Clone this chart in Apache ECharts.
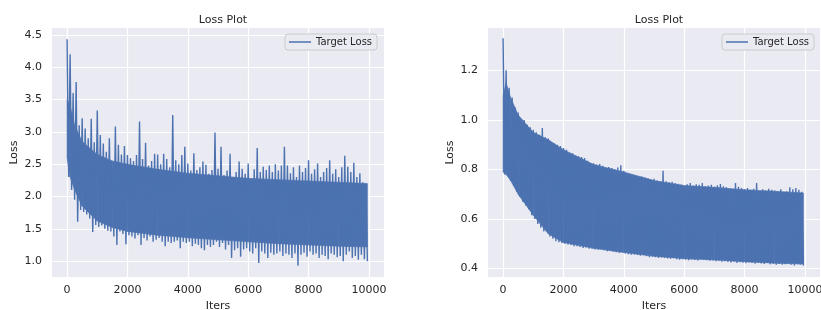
<!DOCTYPE html>
<html>
<head>
<meta charset="utf-8">
<script src="https://cdn.jsdelivr.net/npm/echarts@6/dist/echarts.min.js"></script>
<style>
  html, body { margin: 0; padding: 0; background: #fff; }
  #chart { width: 821px; height: 310px; }
</style>
</head>
<body>
<div id="chart"></div>
<script>
// each bin covers 100 iters: peak read at the bin start, trough read at mid bin
const binSize = 100;

const leftHigh = [
  4.43, 4.2, 3.6, 3.77, 3.1, 3.21, 3.05, 2.9, 3.2, 2.84,
  3.33, 2.95, 2.82, 2.69, 2.9, 2.43, 3.08, 2.8, 2.65, 2.78,
  2.64, 2.59, 2.55, 2.64, 3.16, 2.58, 2.83, 2.48, 2.55, 2.66,
  2.65, 2.5, 2.66, 2.58, 2.45, 3.26, 2.56, 2.5, 2.64, 2.77,
  2.51, 2.4, 2.67, 2.41, 2.45, 2.54, 2.49, 2.35, 2.41, 2.99,
  2.43, 2.77, 2.33, 2.4, 2.66, 2.28, 2.38, 2.54, 2.43, 2.35,
  2.51, 2.23, 2.42, 2.75, 2.38, 2.46, 2.41, 2.48, 2.38, 2.5,
  2.4, 2.48, 2.77, 2.48, 2.36, 2.45, 2.3, 2.48, 2.38, 2.44,
  2.56, 2.35, 2.42, 2.51, 2.3, 2.38, 2.44, 2.56, 2.35, 2.42,
  2.3, 2.45, 2.63, 2.46, 2.38, 2.52, 2.3, 2.36, 2.22, 2.15
];
const leftLow = [
  2.3, 2.1, 1.95, 1.61, 1.79, 1.76, 1.72, 1.66, 1.45, 1.56,
  1.53, 1.55, 1.5, 1.47, 1.46, 1.38, 1.25, 1.46, 1.42, 1.26,
  1.4, 1.38, 1.35, 1.4, 1.25, 1.36, 1.32, 1.38, 1.3, 1.33,
  1.36, 1.3, 1.23, 1.3, 1.28, 1.3, 1.32, 1.2, 1.3, 1.28,
  1.3, 1.23, 1.27, 1.25, 1.2, 1.17, 1.25, 1.22, 1.25, 1.3,
  1.22, 1.28, 1.18, 1.25, 1.05, 1.17, 1.2, 1.07, 1.18, 1.2,
  1.15, 1.12, 1.2, 0.97, 1.15, 1.12, 1.05, 1.13, 1.1, 1.12,
  1.15, 1.08, 1.12, 1.1, 1.05, 1.12, 0.93, 1.1, 1.13, 1.07,
  1.15, 1.1, 1.12, 1.05, 1.1, 1.08, 1.03, 1.12, 1.1, 1.06,
  1.08, 1.0, 1.1, 1.15, 1.05, 1.08, 1.02, 1.1, 1.03, 1.0
];

const rightHigh = [
  1.33, 1.2, 1.13, 1.09, 1.05, 1.03, 1.0, 1.0, 0.98, 0.97,
  0.96, 0.95, 0.94, 0.967, 0.93, 0.925, 0.91, 0.905, 0.9, 0.895,
  0.887, 0.88, 0.867, 0.865, 0.855, 0.853, 0.85, 0.846, 0.835, 0.826,
  0.825, 0.82, 0.822, 0.815, 0.806, 0.81, 0.806, 0.8, 0.808, 0.817,
  0.795, 0.78, 0.775, 0.766, 0.772, 0.77, 0.772, 0.768, 0.765, 0.76,
  0.762, 0.755, 0.752, 0.795, 0.752, 0.748, 0.75, 0.745, 0.742, 0.739,
  0.732, 0.74, 0.745, 0.735, 0.74, 0.738, 0.745, 0.732, 0.735, 0.738,
  0.73, 0.736, 0.741, 0.732, 0.728, 0.705, 0.72, 0.745, 0.73, 0.725,
  0.72, 0.725, 0.718, 0.722, 0.745, 0.705, 0.72, 0.715, 0.722, 0.718,
  0.715, 0.712, 0.72, 0.7, 0.712, 0.728, 0.72, 0.725, 0.718, 0.71
];
const rightLow = [
  0.78, 0.775, 0.755, 0.735, 0.71, 0.69, 0.67, 0.655, 0.64, 0.615,
  0.6, 0.58, 0.565, 0.55, 0.564, 0.53, 0.52, 0.51, 0.506, 0.503,
  0.5, 0.497, 0.495, 0.49, 0.49, 0.487, 0.483, 0.485, 0.48, 0.48,
  0.477, 0.476, 0.477, 0.474, 0.47, 0.472, 0.468, 0.466, 0.463, 0.465,
  0.461, 0.458, 0.456, 0.457, 0.455, 0.452, 0.454, 0.45, 0.446, 0.448,
  0.446, 0.443, 0.445, 0.443, 0.441, 0.44, 0.442, 0.438, 0.436, 0.438,
  0.436, 0.434, 0.437, 0.435, 0.433, 0.439, 0.436, 0.434, 0.432, 0.433,
  0.43, 0.432, 0.428, 0.43, 0.427, 0.425, 0.428, 0.423, 0.426, 0.424,
  0.422, 0.425, 0.423, 0.42, 0.424, 0.421, 0.419, 0.423, 0.418, 0.42,
  0.416, 0.419, 0.415, 0.418, 0.421, 0.416, 0.412, 0.418, 0.415, 0.412
];

// the dense solid part of the noise, read at a few iters
const coreIters = [0, 100, 250, 500, 1000, 1500, 2000, 3000, 4000, 5000, 6000, 7000, 8000, 9000, 9950];
const leftCoreTop = [3.5, 3.4, 3.1, 2.85, 2.65, 2.55, 2.5, 2.42, 2.36, 2.32, 2.28, 2.26, 2.24, 2.22, 2.2];
const leftCoreBottom = [2.6, 2.3, 2.1, 1.85, 1.62, 1.52, 1.46, 1.4, 1.36, 1.33, 1.3, 1.27, 1.25, 1.23, 1.22];
const rightCoreTop = [1.1, 1.15, 1.09, 1.02, 0.95, 0.92, 0.88, 0.82, 0.79, 0.755, 0.735, 0.728, 0.718, 0.712, 0.705];
const rightCoreBottom = [0.79, 0.78, 0.755, 0.7, 0.615, 0.54, 0.505, 0.482, 0.465, 0.45, 0.44, 0.435, 0.428, 0.422, 0.418];

const xTicks = [0, 2000, 4000, 6000, 8000, 10000];
const leftYTicks = [1.0, 1.5, 2.0, 2.5, 3.0, 3.5, 4.0, 4.5];
const rightYTicks = [0.4, 0.6, 0.8, 1.0, 1.2];

const seriesName = 'Target Loss';
const lineColor = '#4C72B0';
const txtColor = '#262626';
const font = 'DejaVu Sans';

function toPoints(high, low) {
  let pts = [];
  for (let i = 0; i < high.length; i++) {
    pts.push([i * binSize, high[i]]);
    pts.push([i * binSize + binSize / 2, low[i]]);
  }
  return pts;
}

function xAxisOf(idx) {
  return {
    type: 'value', gridIndex: idx, min: -500, max: 10500,
    name: 'Iters', nameLocation: 'middle', nameGap: 24,
    nameTextStyle: { color: txtColor, fontSize: 11, fontFamily: font },
    axisLine: { show: false },
    axisTick: { show: false, customValues: xTicks },
    axisLabel: { customValues: xTicks, color: txtColor, fontSize: 11, fontFamily: font, margin: 8,
      formatter: (v) => String(v) },
    splitLine: { show: true, lineStyle: { color: '#fff', width: 1.2 } }
  };
}

function yAxisOf(idx, min, max, ticks) {
  return {
    type: 'value', gridIndex: idx, min: min, max: max,
    name: 'Loss', nameLocation: 'middle', nameGap: 32, nameRotate: 90,
    nameTextStyle: { color: txtColor, fontSize: 11, fontFamily: font },
    axisLine: { show: false },
    axisTick: { show: false, customValues: ticks },
    axisLabel: {
      customValues: ticks, color: txtColor, fontSize: 11, fontFamily: font, margin: 10,
      formatter: (v) => v.toFixed(1)
    },
    splitLine: { show: true, lineStyle: { color: '#fff', width: 1.2 } }
  };
}

function legendOf(left) {
  return {
    data: [seriesName], left: left, top: 34, orient: 'vertical',
    icon: 'rect', itemWidth: 22, itemHeight: 1.5, itemGap: 5,
    backgroundColor: '#EAEAF2', borderColor: '#CCCCCC', borderWidth: 1, borderRadius: 3,
    padding: [3, 5, 3, 4],
    itemStyle: { color: lineColor },
    textStyle: { color: txtColor, fontSize: 10, fontFamily: font }
  };
}

function seriesOf(idx, high, low) {
  return {
    name: seriesName, type: 'line', xAxisIndex: idx, yAxisIndex: idx,
    data: toPoints(high, low),
    symbol: 'none', showSymbol: false, sampling: null,
    lineStyle: { color: lineColor, width: 1.4 },
    itemStyle: { color: lineColor },
    silent: true, z: 3
  };
}

// solid band between coreBottom and coreTop, one quad per segment
function coreSeries(idx, top, bottom) {
  return {
    name: 'core' + idx, type: 'custom', coordinateSystem: 'cartesian2d',
    xAxisIndex: idx, yAxisIndex: idx, silent: true, z: 2, clip: true,
    data: coreIters.map((it, i) => [it, top[i], bottom[i]]),
    encode: { x: 0, y: [1, 2] },
    renderItem: function (params, api) {
      let i = params.dataIndexInside;
      if (i >= params.dataInsideLength - 1) return null;
      let pts = [
        api.coord([api.value(0, i), api.value(1, i)]),
        api.coord([api.value(0, i + 1), api.value(1, i + 1)]),
        api.coord([api.value(0, i + 1), api.value(2, i + 1)]),
        api.coord([api.value(0, i), api.value(2, i)])
      ];
      return { type: 'polygon', shape: { points: pts },
        style: { fill: lineColor, stroke: lineColor, lineWidth: 0.6 } };
    }
  };
}

let chart = echarts.init(document.getElementById('chart'), null, { renderer: 'canvas' });
let option = {
  animation: false,
  backgroundColor: '#fff',
  title: [
    { text: 'Loss Plot', left: 218, top: 10, textAlign: 'center',
      textStyle: { color: txtColor, fontSize: 11, fontWeight: 'normal', fontFamily: font } },
    { text: 'Loss Plot', left: 654, top: 10, textAlign: 'center',
      textStyle: { color: txtColor, fontSize: 11, fontWeight: 'normal', fontFamily: font } }
  ],
  grid: [
    { left: 52, top: 28, width: 332, height: 249, show: true, backgroundColor: '#EAEAF2',
      borderWidth: 0, containLabel: false, outerBoundsMode: 'none' },
    { left: 488, top: 28, width: 332, height: 249, show: true, backgroundColor: '#EAEAF2',
      borderWidth: 0, containLabel: false, outerBoundsMode: 'none' }
  ],
  legend: [legendOf(285), legendOf(722)],
  xAxis: [xAxisOf(0), xAxisOf(1)],
  yAxis: [
    yAxisOf(0, 0.755, 4.605, leftYTicks),
    yAxisOf(1, 0.366, 1.371, rightYTicks)
  ],
  series: [
    coreSeries(0, leftCoreTop, leftCoreBottom),
    coreSeries(1, rightCoreTop, rightCoreBottom),
    seriesOf(0, leftHigh, leftLow),
    seriesOf(1, rightHigh, rightLow)
  ]
};
chart.setOption(option);
</script>
</body>
</html>
